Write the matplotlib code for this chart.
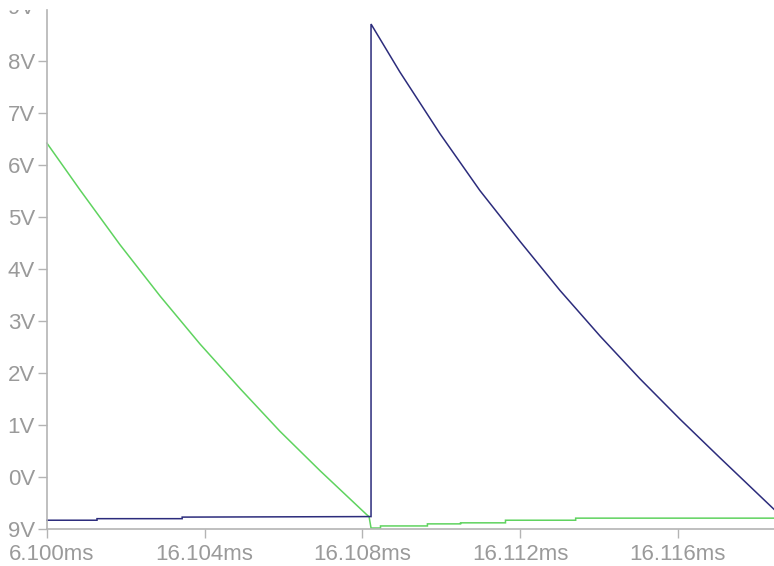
import matplotlib
matplotlib.use("Agg")
import matplotlib.pyplot as plt
from matplotlib import font_manager
import matplotlib.transforms as mtransforms

# Transient waveforms (time in ms, voltage in V)
t_blue = [16.1000, 16.10127, 16.10127, 16.10343, 16.10343, 16.10816, 16.10822,
          16.10822, 16.10895, 16.10997, 16.11098, 16.11200, 16.11301, 16.11403,
          16.11504, 16.11606, 16.11707, 16.11844]
v_blue = [-0.83, -0.83, -0.80, -0.80, -0.77, -0.76, -0.76,
          8.71, 7.79, 6.60, 5.51, 4.53, 3.59, 2.71,
          1.89, 1.11, 0.37, -0.62]

t_green = [16.1000, 16.10084, 16.10185, 16.10287, 16.10388, 16.10490, 16.10591,
           16.10693, 16.10812, 16.10817,
           16.10822, 16.10846, 16.10846, 16.10965, 16.10965, 16.11049, 16.11049,
           16.11163, 16.11163, 16.11341, 16.11341, 16.11844]
v_green = [6.42, 5.52, 4.47, 3.48, 2.56, 1.70, 0.88,
           0.12, -0.73, -0.76,
           -0.98, -0.98, -0.94, -0.94, -0.90, -0.90, -0.88,
           -0.88, -0.83, -0.83, -0.79, -0.79]

x_ticks = [16.100, 16.104, 16.108, 16.112, 16.116]
x_labels = ["6.100ms", "16.104ms", "16.108ms", "16.112ms", "16.116ms"]
y_ticks = [-1, 0, 1, 2, 3, 4, 5, 6, 7, 8]
y_labels = ["9V", "0V", "1V", "2V", "3V", "4V", "5V", "6V", "7V", "8V"]
top_label = (9, "9V")

names = {f.name for f in font_manager.fontManager.ttflist}
family = "Liberation Sans Narrow" if "Liberation Sans Narrow" in names else "Liberation Sans"

W, H, DPI = 774, 566, 100
TOP_GAP = 10  # blank strip above the plotting window, in pixels
fig = plt.figure(figsize=(W / DPI, H / DPI), dpi=DPI, facecolor="white")
ax = fig.add_axes([0, 0, 1, (H - TOP_GAP) / H])
ax.set_facecolor("white")

ax.plot(t_green, v_green, color="#5fd35f", lw=1.1, solid_joinstyle="miter")
ax.plot(t_blue, v_blue, color="#2c2c7c", lw=1.1, solid_joinstyle="miter")

ax.set_xlim(16.09881, 16.11844)
ax.set_ylim(-1.71, 8.98)

axis_gray = "#b4b4b4"
text_gray = "#9a9a9a"
for side in ("top", "right"):
    ax.spines[side].set_visible(False)
ax.spines["left"].set_position(("data", 16.100))
ax.spines["bottom"].set_position(("data", -1.0))
ax.spines["left"].set_bounds(-1.0, 8.98)
ax.spines["bottom"].set_bounds(16.100, 16.11844)
for side in ("left", "bottom"):
    ax.spines[side].set_color(axis_gray)
    ax.spines[side].set_linewidth(1.2)

ax.set_xticks(x_ticks)
ax.set_xticklabels(x_labels)
ax.set_yticks(y_ticks)
ax.set_yticklabels(y_labels)
TICK_LEN, YPAD = 6.5, 2
ax.tick_params(axis="both", direction="out", length=TICK_LEN, width=1.0,
               color=axis_gray, labelcolor=text_gray, labelsize=16)
ax.tick_params(axis="x", pad=4)
ax.tick_params(axis="y", pad=YPAD)
for lab in ax.get_xticklabels() + ax.get_yticklabels():
    lab.set_family(family)

# the first time label sits a little to the right of its tick
first = ax.get_xticklabels()[0]
first.set_transform(first.get_transform() +
                    mtransforms.ScaledTranslation(5 / DPI, 0, fig.dpi_scale_trans))

# upper voltage label, partly hidden behind the top edge of the window
shift = mtransforms.ScaledTranslation(-(TICK_LEN + YPAD) / 72, 0, fig.dpi_scale_trans)
txt = ax.text(16.100, top_label[0], top_label[1], transform=ax.transData + shift,
              ha="right", va="center", fontsize=16, color=text_gray, family=family)
txt.set_clip_box(mtransforms.TransformedBbox(
    mtransforms.Bbox([[0, 0], [W, H - TOP_GAP]]), mtransforms.IdentityTransform()))
txt.set_clip_on(True)

fig.savefig("out.png", dpi=DPI, facecolor="white")
